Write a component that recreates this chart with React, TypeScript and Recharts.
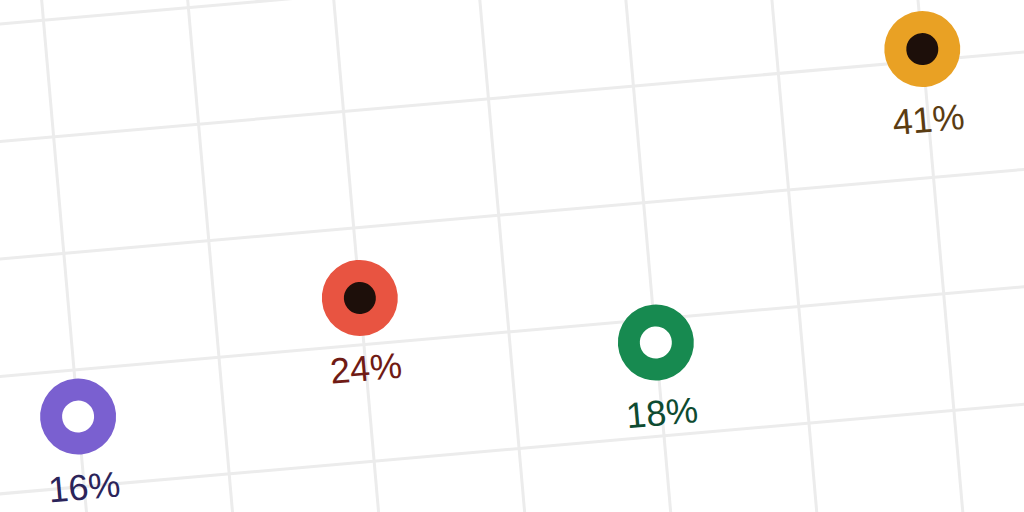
import React from 'react';
import { ScatterChart, Scatter, XAxis, YAxis, CartesianGrid } from 'recharts';

// one marker per slot, left to right
const slots = [0, 1, 2, 3];
const shares = [16, 24, 18, 41];
const ringColors = ['#7a60d0', '#e85441', '#178a50', '#e9a124'];
const holeColors = ['#ffffff', '#1d0f0a', '#ffffff', '#1d0f0a'];
const labelColors = ['#2b245a', '#701b15', '#0e4b31', '#5a3c12'];

const xTicks = [-0.5, 0, 0.5, 1, 1.5, 2, 2.5, 3, 3.5];
const yTicks = [-10, 0, 10, 20, 30, 40, 50, 60];

const points = slots.map((slot, i) => ({
  x: slot,
  y: shares[i],
  ring: ringColors[i],
  hole: holeColors[i],
  labelColor: labelColors[i],
}));

const Marker = (props: any) => {
  const { cx, cy, payload } = props;
  if (cx == null || cy == null) return null;
  return (
    <g>
      <circle cx={cx} cy={cy} r={38} fill={payload.ring} />
      <circle cx={cx} cy={cy} r={16} fill={payload.hole} />
      <text
        x={cx}
        y={cy + 83}
        textAnchor="middle"
        fontSize={36}
        fontFamily="'Liberation Sans', Arial, sans-serif"
        fill={payload.labelColor}
      >
        {payload.y}%
      </text>
    </g>
  );
};

// axis ticks only feed the grid, nothing is drawn for them
const NoTick = () => <g />;

// the chart is tilted and cropped; its axes sit outside the visible window
export default function App() {
  return (
    <div
      style={{
        position: 'fixed',
        left: 0,
        top: 0,
        width: 1024,
        height: 512,
        overflow: 'hidden',
        background: '#ffffff',
      }}
    >
      <div
        style={{
          position: 'absolute',
          left: -250,
          top: -150,
          width: 1500,
          height: 1000,
          transform: 'rotate(-5deg)',
          transformOrigin: '250px 150px',
        }}
      >
        <ScatterChart width={1500} height={1000} margin={{ top: 57, right: 190, bottom: 94, left: 86 }}>
          <CartesianGrid stroke="#ececec" strokeWidth={3} />
          <XAxis
            type="number"
            dataKey="x"
            domain={[-0.5, 3.5]}
            ticks={xTicks}
            tick={NoTick}
            tickLine={false}
            axisLine={false}
          />
          <YAxis
            type="number"
            dataKey="y"
            domain={[-10, 60]}
            ticks={yTicks}
            tick={NoTick}
            tickLine={false}
            axisLine={false}
          />
          <Scatter data={points} shape={Marker} isAnimationActive={false} />
        </ScatterChart>
      </div>
    </div>
  );
}
